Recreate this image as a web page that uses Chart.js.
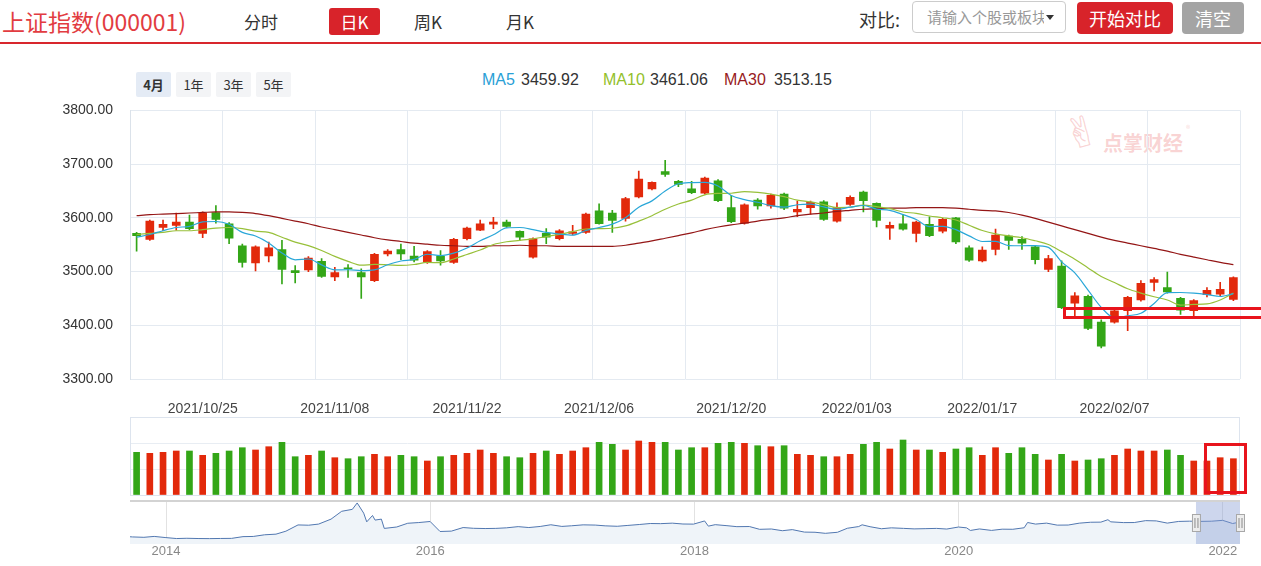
<!DOCTYPE html>
<html>
<head>
<meta charset="utf-8">
<script src="https://cdn.jsdelivr.net/npm/chart.js@4.4.1/dist/chart.umd.min.js"></script>
<style>
body{margin:0;width:1261px;height:566px;overflow:hidden;background:#fff;position:relative;font-family:"Noto Sans CJK SC","Liberation Sans",sans-serif;color:#333;}
.abs{position:absolute;}
.tab{position:absolute;top:7px;font-size:17px;line-height:30px;color:#333;}
.btn{position:absolute;color:#fff;text-align:center;border-radius:4px;}
.rng{position:absolute;top:72px;width:35px;height:25px;line-height:25px;text-align:center;font-size:13px;background:#f3f4f6;border-radius:2px;}
.leg{position:absolute;top:70px;line-height:20px;font-size:16px;font-family:"Liberation Sans",Arial,sans-serif;}
canvas{position:absolute;left:0;}
.mark{position:absolute;border:3px solid #e8141c;box-sizing:border-box;z-index:5;}
.wm{position:absolute;color:rgba(236,120,120,0.33);}
</style>
</head>
<body>
<div class="abs" style="left:2px;top:4px;font-size:23px;line-height:34px;color:#e23c41;">上证指数(000001)</div>
<div class="tab" style="left:244px;">分时</div>
<div class="btn" style="left:329px;top:8px;width:51px;height:27px;line-height:27px;font-size:17px;background:#d8232a;border-radius:3px;">日K</div>
<div class="tab" style="left:414px;">周K</div>
<div class="tab" style="left:506px;">月K</div>
<div class="abs" style="left:859px;top:4px;font-size:18px;line-height:30px;">对比:</div>
<div class="abs" style="left:912px;top:1px;width:154px;height:32px;border:1px solid #ccc;border-radius:4px;box-sizing:border-box;"></div>
<div class="abs" style="left:927px;top:3px;width:117px;overflow:hidden;white-space:nowrap;font-size:15px;line-height:28px;color:#999;">请输入个股或板块</div>
<div class="abs" style="left:1046px;top:15px;width:0;height:0;border-left:4px solid transparent;border-right:4px solid transparent;border-top:5px solid #333;"></div>
<div class="btn" style="left:1077px;top:2px;width:96px;height:32px;line-height:32px;font-size:18px;background:#d8232a;">开始对比</div>
<div class="btn" style="left:1182px;top:2px;width:62px;height:32px;line-height:32px;font-size:18px;background:#a4a4a4;">清空</div>
<div class="abs" style="left:0;top:42px;width:1261px;height:2px;background:#d8262d;"></div>

<div class="rng" style="left:136px;background:#e4ebf5;font-weight:bold;">4月</div>
<div class="rng" style="left:176px;">1年</div>
<div class="rng" style="left:216px;">3年</div>
<div class="rng" style="left:256px;">5年</div>

<div class="leg" style="left:482px;color:#2aa0d6;">MA5</div>
<div class="leg" style="left:521px;" id="v5"></div>
<div class="leg" style="left:603px;color:#93c02b;">MA10</div>
<div class="leg" style="left:650px;" id="v10"></div>
<div class="leg" style="left:724px;color:#981b1e;">MA30</div>
<div class="leg" style="left:774px;" id="v30"></div>

<div class="wm" style="left:1064px;top:110px;font-size:42px;line-height:46px;font-weight:bold;font-family:'DejaVu Sans';transform:rotate(-15deg);">✌</div>
<div class="wm" style="left:1103px;top:130px;font-size:20px;line-height:26px;font-weight:bold;">点掌财经</div>
<div class="wm" style="left:1186px;top:124px;font-size:9px;line-height:10px;">®</div>

<canvas id="kline" width="1261" height="333" style="top:85px;"></canvas>
<canvas id="vol" width="1261" height="86" style="top:412px;"></canvas>
<canvas id="overview" width="1261" height="68" style="top:498px;"></canvas>

<div class="mark" style="left:1063px;top:307px;width:210px;height:12px;"></div>
<div class="mark" style="left:1204px;top:443px;width:43px;height:51px;"></div>

<script>
// trading days shown in the 4-month window
const dates = ['2021/10/18','2021/10/19','2021/10/20','2021/10/21','2021/10/22','2021/10/25','2021/10/26','2021/10/27','2021/10/28','2021/10/29',
  '2021/11/01','2021/11/02','2021/11/03','2021/11/04','2021/11/05','2021/11/08','2021/11/09','2021/11/10','2021/11/11','2021/11/12',
  '2021/11/15','2021/11/16','2021/11/17','2021/11/18','2021/11/19','2021/11/22','2021/11/23','2021/11/24','2021/11/25','2021/11/26',
  '2021/11/29','2021/11/30','2021/12/01','2021/12/02','2021/12/03','2021/12/06','2021/12/07','2021/12/08','2021/12/09','2021/12/10',
  '2021/12/13','2021/12/14','2021/12/15','2021/12/16','2021/12/17','2021/12/20','2021/12/21','2021/12/22','2021/12/23','2021/12/24',
  '2021/12/27','2021/12/28','2021/12/29','2021/12/30','2021/12/31','2022/01/04','2022/01/05','2022/01/06','2022/01/07','2022/01/10',
  '2022/01/11','2022/01/12','2022/01/13','2022/01/14','2022/01/17','2022/01/18','2022/01/19','2022/01/20','2022/01/21','2022/01/24',
  '2022/01/25','2022/01/26','2022/01/27','2022/01/28','2022/02/07','2022/02/08','2022/02/09','2022/02/10','2022/02/11','2022/02/14',
  '2022/02/15','2022/02/16','2022/02/17','2022/02/18'];

const opens = [3571,3560,3582,3586,3592,3571,3610,3589,3548,3516, 3529,3541,3502,3503,3519,3490,3506,3498,3483,3533,
  3541,3529,3518,3529,3517,3561,3577,3588,3592,3575, 3527,3571,3561,3571,3573,3613,3609,3599,3639,3654,
  3686,3668,3654,3646,3669,3619,3590,3633,3622,3644, 3611,3619,3630,3594,3625,3648,3627,3581,3589,3571,
  3588,3575,3600,3544,3520,3541,3566,3560,3546,3504, 3510,3441,3454,3406,3406,3427,3447,3480,3470,3450,
  3427,3457,3458,3448];
const closes = [3567,3594,3588,3592,3580,3609,3597,3562,3517,3546, 3544,3504,3498,3525,3491,3498,3505,3490,3532,3538,
  3533,3521,3537,3520,3560,3581,3589,3592,3584,3564, 3561,3564,3576,3574,3607,3589,3595,3636,3672,3666,
  3681,3662,3647,3674,3632,3593,3624,3622,3642,3618, 3616,3629,3597,3619,3638,3632,3595,3586,3579,3592,
  3567,3597,3555,3521,3540,3568,3558,3553,3522,3524, 3433,3455,3394,3361,3427,3452,3478,3485,3462,3428,
  3446,3465,3467,3489];
const highs = [3573,3596,3596,3609,3605,3611,3623,3591,3551,3548, 3555,3558,3511,3528,3524,3508,3513,3505,3534,3541,
  3551,3547,3539,3539,3562,3583,3596,3601,3596,3576, 3563,3580,3578,3586,3609,3626,3614,3638,3687,3667,
  3707,3670,3668,3676,3671,3642,3626,3636,3644,3646, 3631,3631,3632,3628,3641,3650,3628,3592,3606,3594,
  3602,3599,3601,3548,3546,3579,3568,3565,3548,3530, 3520,3461,3456,3410,3429,3454,3483,3489,3499,3452,
  3448,3470,3480,3490];
const lows = [3538,3558,3576,3577,3578,3563,3590,3552,3508,3501, 3518,3477,3479,3500,3489,3483,3489,3450,3481,3529,
  3522,3518,3515,3512,3515,3559,3576,3580,3582,3558, 3525,3552,3559,3568,3571,3588,3573,3594,3637,3652,
  3677,3658,3645,3644,3630,3591,3588,3616,3618,3615, 3602,3607,3595,3592,3623,3611,3583,3560,3577,3555,
  3565,3572,3552,3519,3518,3531,3541,3541,3514,3500, 3431,3417,3392,3358,3404,3390,3445,3464,3460,3420,
  3418,3453,3455,3446];

const ma5 = [3564,3569,3576,3582,3584.2,3592.6,3593.2,3588,3573,3566.2, 3553.2,3534.6,3521.8,3523.4,3512.4,3503.2,3503.4,3501.8,3503.2,3512.6,
  3519.6,3522.8,3532.2,3529.8,3534.2,3543.8,3557.4,3568.4,3581.2,3582, 3578,3573,3569.8,3567.8,3576.4,3582,3588.2,3600.2,3619.8,3631.6,
  3650,3663.4,3665.6,3666,3659.2,3641.6,3634,3629,3622.6,3619.8, 3624.4,3625.4,3620.4,3615.8,3619.8,3623,3616.2,3614,3606,3596.8,
  3583.8,3584.2,3578,3566.4,3556,3556.2,3548.4,3548,3548.2,3545, 3518,3497.4,3465.6,3433.4,3414,3417.8,3422.4,3440.6,3460.8,3461,
  3459.8,3457.2,3453.6,3459];
const ma10 = [3569,3571,3573,3576,3576,3578,3581,3582,3580,3575.2, 3572.9,3563.9,3554.9,3548.2,3539.3,3528.2,3519,3511.8,3513.3,3512.5,
  3511.4,3513.1,3517,3516.5,3523.4,3531.7,3540.1,3550.3,3555.5,3558.1, 3560.9,3565.2,3569.1,3574.5,3579.2,3580,3580.6,3585,3593.8,3604,
  3616,3625.8,3632.9,3642.9,3645.4,3645.8,3648.7,3647.3,3644.3,3639.5, 3633,3629.7,3624.7,3619.2,3619.8,3623.7,3620.8,3617.2,3610.9,3608.3,
  3603.4,3600.2,3596,3586.2,3576.4,3570,3566.3,3563,3557.3,3550.5, 3537.1,3522.9,3506.8,3490.8,3479.5,3467.9,3459.9,3453.1,3447.1,3437.5,
  3438.8,3439.8,3447.1,3459.9];
const ma30 = [3604,3606,3607,3608,3609,3610,3611,3611,3610,3608, 3604,3599,3594,3589,3583,3578,3573,3568,3563,3559,
  3556,3553,3551,3549,3548,3547,3547,3548,3548,3549, 3548,3548,3547,3547,3547,3547,3547,3549,3553,3557,
  3562,3567,3572,3578,3583,3587,3590,3594,3597,3600, 3604,3607,3609,3612,3614,3616,3617,3618,3618,3619,
  3619,3619,3618,3616,3614,3613,3610,3605,3599,3592, 3585,3578,3571,3564,3558,3553,3548,3543,3538,3532,
  3527,3522,3517,3513];
const maLegend = ['3459.92','3461.06','3513.15'];

// volume, 亿股
const volumes = [427,417,427,440,440,397,417,440,473,450, 483,527,383,397,440,373,363,383,407,383,
  397,383,340,383,397,417,450,417,383,373, 417,440,407,440,473,527,507,450,540,527,
  527,450,473,473,517,527,517,493,483,493, 407,397,383,383,407,507,527,460,550,450,
  450,427,460,473,397,473,417,473,407,350, 407,340,350,363,397,460,440,440,450,397,
  340,340,373,363];

const tickLabels = ['2021/10/25','2021/11/08','2021/11/22','2021/12/06','2021/12/20','2022/01/03','2022/01/17','2022/02/07'];

// long history for the zoom strip at the bottom
const ovDates = ['2013-09-23','2013-09-30','2013-10-31','2013-11-29','2013-12-31',
  '2014-01-30','2014-02-28','2014-03-31','2014-04-30','2014-05-30','2014-06-30','2014-07-31','2014-08-29','2014-09-30','2014-10-31','2014-11-28','2014-12-31',
  '2015-01-30','2015-02-27','2015-03-31','2015-04-30','2015-05-29','2015-06-12','2015-06-30','2015-07-08','2015-07-24','2015-07-31','2015-08-18','2015-08-26','2015-09-30','2015-10-30','2015-11-30','2015-12-31',
  '2016-01-28','2016-02-29','2016-03-31','2016-04-29','2016-05-31','2016-06-30','2016-07-29','2016-08-31','2016-09-30','2016-10-31','2016-11-30','2016-12-30',
  '2017-01-26','2017-02-28','2017-03-31','2017-04-28','2017-05-31','2017-06-30','2017-07-31','2017-08-31','2017-09-29','2017-10-31','2017-11-30','2017-12-29',
  '2018-01-29','2018-02-09','2018-02-28','2018-03-30','2018-04-27','2018-05-31','2018-06-29','2018-07-31','2018-08-31','2018-09-28','2018-10-31','2018-11-30','2018-12-28',
  '2019-01-31','2019-02-28','2019-03-29','2019-04-08','2019-04-30','2019-05-31','2019-06-28','2019-07-31','2019-08-30','2019-09-30','2019-10-31','2019-11-29','2019-12-31',
  '2020-01-23','2020-02-03','2020-02-28','2020-03-31','2020-04-30','2020-05-29','2020-06-30','2020-07-09','2020-07-31','2020-08-31','2020-09-30','2020-10-30','2020-11-30','2020-12-31',
  '2021-01-29','2021-02-18','2021-02-26','2021-03-31','2021-04-30','2021-05-31','2021-06-30','2021-07-30','2021-08-31','2021-09-30','2021-10-29','2021-11-30','2021-12-31',
  '2022-01-28','2022-02-18'];
const ovValues = [2190,2175,2141,2220,2116,
  2033,2056,2033,2026,2039,2048,2201,2217,2364,2420,2683,3235,
  3210,3310,3748,4441,4612,5178,4277,3507,4070,3664,3749,2927,3053,3383,3445,3539,
  2656,2688,3004,2938,2917,2930,2979,3085,3005,3100,3250,3104,
  3159,3242,3223,3155,3117,3192,3273,3361,3349,3393,3317,3307,
  3587,3129,3259,3169,3082,3095,2847,2876,2725,2821,2603,2588,2494,
  2585,2941,3091,3247,3078,2899,2979,2932,2886,2905,2929,2872,3050,
  2977,2746,2880,2750,2860,2852,2985,3451,3310,3396,3218,3225,3392,3473,
  3483,3696,3509,3441,3447,3615,3591,3397,3544,3568,3547,3564,3640,
  3361,3491];
const ovTicks = [2014, 2016, 2018, 2020, 2022];

document.getElementById('v5').textContent = maLegend[0];
document.getElementById('v10').textContent = maLegend[1];
document.getElementById('v30').textContent = maLegend[2];

Chart.defaults.font.family = '"Liberation Sans", Arial, sans-serif';
Chart.defaults.color = '#333';

const UP = '#e2290b', DOWN = '#33a617';
const candleColors = opens.map((o, i) => closes[i] >= o ? UP : DOWN); // red up, green down
const pts = arr => arr.map((v, i) => ({x: i, y: v}));
// holiday labels (01/03) sit in the gap before the next trading day
const tickPos = tickLabels.map(l => {
    const k = dates.indexOf(l);
    return k >= 0 ? k : dates.findIndex(d => d > l) - 0.5;
});
const toYear = s => { const [y, m, d] = s.split(/[-\/]/).map(Number); return y + (m - 1) / 12 + (d - 1) / 365; };

const maLine = (data, color) => ({type: 'line', data: pts(data), borderColor: color, borderWidth: 1.2,
    pointRadius: 0, cubicInterpolationMode: 'monotone', order: 0});

new Chart(document.getElementById('kline'), {
    type: 'bar',
    data: {
        datasets: [
            maLine(ma5, '#2aa7d8'),
            maLine(ma10, '#98c03a'),
            maLine(ma30, '#941616'),
            {data: opens.map((o, i) => ({x: i, y: [o, closes[i]]})), backgroundColor: candleColors,
             barThickness: 8, minBarLength: 1, grouped: false, order: 1}, //candle bodies
            {data: lows.map((l, i) => ({x: i, y: [l, highs[i]]})), backgroundColor: candleColors,
             barThickness: 1, grouped: false, order: 2} //wicks
        ]
    },
    options: {
        responsive: false,
        animation: false,
        layout: {padding: {top: 10, right: 21, left: 0, bottom: 0}},
        plugins: {legend: {display: false}, tooltip: {enabled: false}},
        scales: {
            x: {
                type: 'linear', min: -0.5, max: 83.5, offset: false,
                afterBuildTicks: ax => { ax.ticks = []; for (let k = 0; k <= 12; k++) ax.ticks.push({value: -0.5 + 7 * k}); },
                ticks: {display: false},
                grid: {color: '#e4eaf1', drawTicks: false, offset: false},
                border: {display: false},
                afterFit: s => { s.height = 0; }
            },
            xl: {
                type: 'linear', position: 'bottom', min: -0.5, max: 83.5, offset: false,
                afterBuildTicks: ax => { ax.ticks = tickPos.map(v => ({value: v})); },
                ticks: {autoSkip: false, maxRotation: 0, padding: 22, font: {size: 14}, color: '#444',
                        callback: (v, i) => tickLabels[i]},
                grid: {display: false, drawTicks: false, offset: false},
                border: {display: false},
                afterFit: s => { s.height = 39; }
            },
            y: {
                min: 3300, max: 3800,
                ticks: {stepSize: 100, padding: 17, font: {size: 14}, color: '#333', callback: v => v.toFixed(2)},
                grid: {color: '#e4eaf1', drawTicks: false},
                border: {color: '#dbe2ea'},
                afterFit: s => { s.width = 130; }
            }
        }
    }
});

const frame = {
    id: 'frame',
    afterDraw(chart) {
        const {ctx, chartArea: a} = chart;
        ctx.save();
        ctx.strokeStyle = '#dde4ee';
        ctx.strokeRect(a.left + 0.5, a.top + 0.5, a.right - a.left - 1, a.bottom - a.top);
        ctx.restore();
    }
};

new Chart(document.getElementById('vol'), {
    type: 'bar',
    data: {datasets: [{data: pts(volumes), backgroundColor: candleColors, barThickness: 6}]},
    options: {
        responsive: false,
        animation: false,
        layout: {padding: {top: 5, right: 21, left: 0, bottom: 3}},
        plugins: {legend: {display: false}, tooltip: {enabled: false}},
        scales: {
            x: {type: 'linear', min: -0.5, max: 83.5, offset: false, grid: {offset: false}, display: false},
            y: {min: 0, max: 780, ticks: {stepSize: 260, display: false},
                grid: {color: '#e8edf3', drawTicks: false}, border: {display: false},
                afterFit: s => { s.width = 130; }}
        }
    },
    plugins: [frame]
});

// shaded window + handles showing which part of history is zoomed
const selection = {
    id: 'selection',
    afterDatasetsDraw(chart) {
        const {ctx, chartArea: a, scales: {x}} = chart;
        const x0 = x.getPixelForValue(toYear(dates[0]));
        const x1 = x.getPixelForValue(toYear(dates[dates.length - 1]));
        ctx.save();
        ctx.fillStyle = 'rgba(135,158,212,0.42)';
        ctx.fillRect(x0, a.top, x1 - x0, a.bottom - a.top);
        ctx.fillStyle = '#d3d3d3';
        ctx.fillRect(a.left, a.top - 1, a.right - a.left, 2);
        [x0, x1].forEach(px => {
            ctx.fillStyle = '#ededed';
            ctx.strokeStyle = '#a8a8a8';
            ctx.fillRect(px - 4, a.top + 13, 8, 17);
            ctx.strokeRect(px - 3.5, a.top + 13.5, 8, 17);
            ctx.strokeStyle = '#8a8a8a';
            ctx.beginPath();
            ctx.moveTo(px - 1, a.top + 17); ctx.lineTo(px - 1, a.top + 27);
            ctx.moveTo(px + 2, a.top + 17); ctx.lineTo(px + 2, a.top + 27);
            ctx.stroke();
        });
        ctx.restore();
    }
};

new Chart(document.getElementById('overview'), {
    type: 'line',
    data: {datasets: [{data: ovDates.map((d, i) => ({x: toYear(d), y: ovValues[i]})), borderColor: '#5177b0',
        borderWidth: 1, pointRadius: 0, fill: 'start', backgroundColor: '#eff4f9', tension: 0}]},
    options: {
        responsive: false,
        animation: false,
        layout: {padding: {top: 3, right: 21, left: 130, bottom: 0}},
        plugins: {legend: {display: false}, tooltip: {enabled: false}},
        scales: {
            x: {
                type: 'linear', min: toYear(ovDates[0]), max: toYear(ovDates[ovDates.length - 1]),
                afterBuildTicks: ax => { ax.ticks = ovTicks.map(v => ({value: v})); },
                ticks: {padding: 0, font: {size: 13}, color: '#888', callback: v => String(v)},
                grid: {color: '#e2e2e2', drawTicks: false},
                border: {display: false},
                afterFit: s => { s.height = 22; }
            },
            y: {display: false, min: 1550, max: 5350}
        }
    },
    plugins: [selection]
});
</script>
</body>
</html>
